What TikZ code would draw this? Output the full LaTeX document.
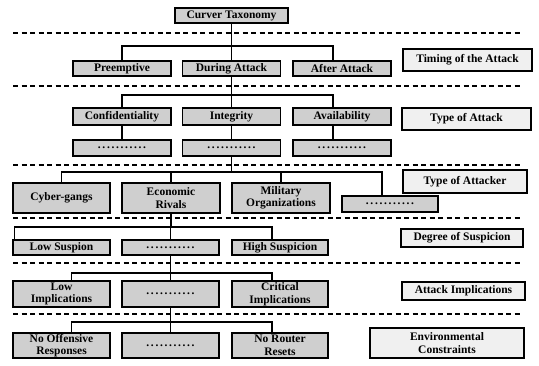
\documentclass[tikz,border=0pt]{standalone}
\usepackage{fontspec}
\setmainfont{Liberation Serif}
\newcommand\mydots{\hbox to 50pt{\xleaders\hbox to 4.2pt{\hss.\hss}\hfill}}
\begin{document}
\begin{tikzpicture}[x=1pt,y=-1pt,
  bx/.style={draw, line width=1.5pt, fill=gray!38, font=\fontsize{11.5}{12.5}\selectfont\bfseries, align=center, inner sep=0pt, minimum width=98pt},
  lb/.style={bx, fill=gray!12},
  dl/.style={line width=1.1pt, dash pattern=on 5pt off 3.5pt},
  cn/.style={line width=1.4pt}]
\useasboundingbox (0,0) rectangle (539,366);
% dashed separators
\foreach \yy in {33,86,165,218,263,314} \draw[dl] (13,\yy) -- (522,\yy);
% root
\node[bx, minimum width=113pt, minimum height=15pt] (root) at (231.5,15.5) {Curver Taxonomy};
% row 1
\node[bx, minimum height=15pt] (pre) at (122,68.5) {Preemptive};
\node[bx, minimum height=15pt] (dur) at (231.5,68.5) {During Attack};
\node[bx, minimum height=15pt] (aft) at (342,68.5) {After Attack};
\node[lb, minimum width=129pt, minimum height=22pt] (timing) at (467.5,60) {Timing of the Attack};
% row 2
\node[bx, minimum height=17pt] (conf) at (122,116.5) {Confidentiality};
\node[bx, minimum height=17pt] (integ) at (231.5,116.5) {Integrity};
\node[bx, minimum height=17pt] (avail) at (342,116.5) {Availability};
\node[lb, minimum width=129pt, minimum height=22pt] (toa) at (466.5,119) {Type of Attack};
\node[bx, minimum height=16pt] (d1) at (122,148) {\mydots};
\node[bx, minimum height=16pt] (d2) at (231.5,148) {\mydots};
\node[bx, minimum height=16pt] (d3) at (342,148) {\mydots};
% row 3
\node[bx, minimum width=97pt, minimum height=30pt] (cyber) at (61.5,198) {Cyber-gangs};
\node[bx, minimum height=30pt] (econ) at (171,198) {Economic\\Rivals};
\node[bx, minimum height=30pt] (mil) at (281,198) {Military\\Organizations};
\node[bx, minimum width=96pt, minimum height=16pt] (d4) at (390,204) {\mydots};
\node[lb, minimum width=124pt, minimum height=23pt] (tatk) at (465,181.5) {Type of Attacker};
% row 4
\node[bx, minimum width=97pt, minimum height=15pt] (lows) at (61.5,247.5) {Low Suspion};
\node[bx, minimum width=97pt, minimum height=15pt] (d5) at (170.5,247.5) {\mydots};
\node[bx, minimum width=96pt, minimum height=15pt] (highs) at (280,247.5) {High Suspicion};
\node[lb, minimum width=122pt, minimum height=18pt] (deg) at (462,238) {Degree of Suspicion};
% row 5
\node[bx, minimum width=97pt, minimum height=26pt] (lowi) at (61.5,294) {Low\\Implications};
\node[bx, minimum width=97pt, minimum height=26pt] (d6) at (170.5,294) {\mydots};
\node[bx, minimum width=96pt, minimum height=26pt] (crit) at (280,294) {Critical\\Implications};
\node[lb, minimum width=123pt, minimum height=18pt] (aimp) at (463.5,291) {Attack Implications};
% row 6
\node[bx, minimum width=97pt, minimum height=25pt] (nooff) at (61.5,345.5) {No Offensive\\Responses};
\node[bx, minimum width=97pt, minimum height=25pt] (d7) at (170.5,345.5) {\mydots};
\node[bx, minimum width=96pt, minimum height=25pt] (norout) at (280,345.5) {No Router\\Resets};
\node[lb, minimum width=154pt, minimum height=30pt] (env) at (447,343) {Environmental\\Constraints};
% buses
\coordinate (b1) at (0,46);
\coordinate (b2) at (0,95);
\coordinate (b3) at (0,172);
\coordinate (b4) at (0,227);
\coordinate (b5) at (0,273);
\coordinate (b6) at (0,322);
% connectors
\draw[cn] (root.south) -- (root.south |- b1);
\draw[cn] (pre.north) |- ([xshift=-9pt]aft.north |- b1) -- ([xshift=-9pt]aft.north);
\draw[cn] (dur.north) -- (dur.north |- b1);
\draw[cn] (dur.south) -- (dur.south |- b2);
\draw[cn] (conf.north) |- ([xshift=-9pt]avail.north |- b2) -- ([xshift=-9pt]avail.north);
\draw[cn] (integ.north) -- (integ.north |- b2);
\draw[cn] (conf.south) -- (d1.north);
\draw[cn] (integ.south) -- (d2.north);
\draw[cn] ([xshift=-9pt]avail.south) -- ([xshift=-9pt]d3.north);
\draw[cn] (d2.south) -- (d2.south |- b3);
\draw[cn] (cyber.north) |- ([xshift=-8pt]d4.north |- b3) -- ([xshift=-8pt]d4.north);
\draw[cn] (econ.north) -- (econ.north |- b3);
\draw[cn] (mil.north) -- (mil.north |- b3);
\draw[cn] (econ.south) -- (econ.south |- b4);
\draw[cn] ([xshift=2pt]lows.north west) |- ([xshift=-8pt]highs.north |- b4) -- ([xshift=-8pt]highs.north);
\draw[cn] (d5.north) -- (d5.north |- b4);
\draw[cn] (d5.south) -- (d5.south |- b5);
\draw[cn] ([xshift=10pt]lowi.north) |- ([xshift=-8pt]crit.north |- b5) -- ([xshift=-8pt]crit.north);
\draw[cn] (d6.north) -- (d6.north |- b5);
\draw[cn] (d6.south) -- (d6.south |- b6);
\draw[cn] ([xshift=10pt]nooff.north) |- ([xshift=-8pt]norout.north |- b6) -- ([xshift=-8pt]norout.north);
\draw[cn] (d7.north) -- (d7.north |- b6);
\end{tikzpicture}
\end{document}
